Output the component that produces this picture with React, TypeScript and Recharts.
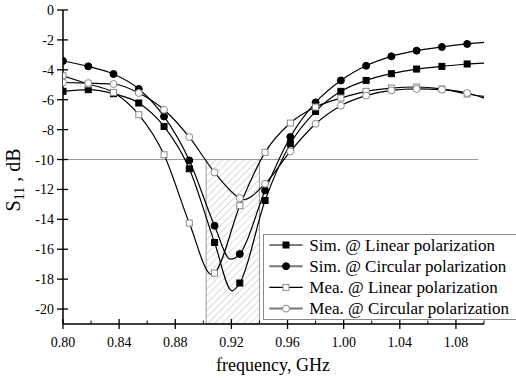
import React from 'react';
import { LineChart, Line, XAxis, YAxis, ReferenceArea, ReferenceLine, Legend } from 'recharts';

const FONT = '"Liberation Serif", "Times New Roman", serif';

// Frequencies (GHz) where the markers sit
const markerFreqs = [0.800, 0.818, 0.836, 0.854, 0.872, 0.890, 0.908, 0.926, 0.944, 0.962, 0.980, 0.998, 1.016, 1.034, 1.052, 1.070, 1.088];

// S11 (dB) at the marker frequencies
const simLinear = [-5.44, -5.33, -5.60, -6.22, -7.79, -10.62, -15.55, -18.26, -12.74, -8.94, -6.78, -5.44, -4.71, -4.26, -3.95, -3.77, -3.61];
const simCircular = [-3.41, -3.77, -4.28, -5.28, -7.12, -10.06, -14.43, -16.32, -12.07, -8.49, -6.18, -4.71, -3.73, -3.10, -2.72, -2.47, -2.27];
const meaLinear = [-4.40, -4.95, -5.51, -7.00, -9.68, -14.25, -17.60, -13.09, -9.52, -7.56, -6.49, -5.89, -5.44, -5.22, -5.15, -5.28, -5.62];
const meaCircular = [-4.85, -4.89, -4.95, -5.55, -6.67, -8.50, -10.86, -12.58, -11.62, -9.46, -7.61, -6.40, -5.73, -5.38, -5.28, -5.33, -5.55];

// Extra curve points (curve minima and curve ends, no marker)
const simLinearCurve = [[0.9205, -18.78], [1.100, -3.55]];
const simCircularCurve = [[0.9193, -16.66], [1.100, -2.17]];
const meaLinearCurve = [[0.9062, -17.72], [1.100, -5.78]];
const meaCircularCurve = [[0.9285, -12.68], [1.100, -5.89]];

const xTicks = [0.80, 0.82, 0.84, 0.86, 0.88, 0.90, 0.92, 0.94, 0.96, 0.98, 1.00, 1.02, 1.04, 1.06, 1.08, 1.10];
const yTicks = [-20, -18, -16, -14, -12, -10, -8, -6, -4, -2, 0];

const bandStart = 0.902;
const bandEnd = 0.940;
const threshold = -10;
const thresholdEnd = 1.096;

type Row = { f: number; v: number; marker: boolean };

function buildRows(values: number[], curve: number[][]): Row[] {
  const rows: Row[] = values.map((v, i) => ({ f: markerFreqs[i], v, marker: true }));
  curve.forEach(([f, v]) => rows.push({ f, v, marker: false }));
  rows.sort((a, b) => a.f - b.f);
  return rows;
}

type Shape = 'square' | 'circle';

const series = [
  { name: 'Sim. @ Linear polarization', rows: buildRows(simLinear, simLinearCurve), shape: 'square' as Shape, filled: true, legendStroke: '#000', legendWidth: 1.2 },
  { name: 'Sim. @ Circular polarization', rows: buildRows(simCircular, simCircularCurve), shape: 'circle' as Shape, filled: true, legendStroke: '#777', legendWidth: 2 },
  { name: 'Mea. @ Linear polarization', rows: buildRows(meaLinear, meaLinearCurve), shape: 'square' as Shape, filled: false, legendStroke: '#000', legendWidth: 1.2 },
  { name: 'Mea. @ Circular polarization', rows: buildRows(meaCircular, meaCircularCurve), shape: 'circle' as Shape, filled: false, legendStroke: '#777', legendWidth: 2 },
];

function Marker({ cx, cy, shape, filled }: { cx: number; cy: number; shape: Shape; filled: boolean }) {
  const fill = filled ? '#000' : '#fff';
  const stroke = filled ? '#000' : '#8a8a8a';
  if (shape === 'square') {
    return <rect x={cx - 3} y={cy - 3} width={6} height={6} fill={fill} stroke={stroke} strokeWidth={1} />;
  }
  return <circle cx={cx} cy={cy} r={3.5} fill={fill} stroke={stroke} strokeWidth={1} />;
}

const makeDot = (shape: Shape, filled: boolean) => (props: any) => {
  const { cx, cy, payload, index } = props;
  if (!payload || !payload.marker || cx == null || cy == null) return <g key={`d-${index}`} />;
  return (
    <g key={`d-${index}`}>
      <Marker cx={cx} cy={cy} shape={shape} filled={filled} />
    </g>
  );
};

const XTick = (props: any) => {
  const { x, y, payload } = props;
  const v = payload.value as number;
  const axisY = y - 8;
  const major = Math.round(v * 100) % 4 === 0;
  return (
    <g>
      {major ? (
        <line x1={x} x2={x} y1={axisY - 5} y2={axisY + 5} stroke="#000" strokeWidth={1.3} />
      ) : (
        <line x1={x} x2={x} y1={axisY - 3.5} y2={axisY} stroke="#000" strokeWidth={1} />
      )}
      {major && (
        <text x={x} y={axisY + 22.5} textAnchor="middle" fontSize={14} fontFamily={FONT} fill="#000">
          {v.toFixed(2)}
        </text>
      )}
    </g>
  );
};

const YTick = (props: any) => {
  const { x, y, payload } = props;
  const v = payload.value as number;
  const axisX = x + 8;
  return (
    <g>
      <line x1={axisX - 6} x2={axisX + 5} y1={y} y2={y} stroke="#000" strokeWidth={1.3} />
      <text x={axisX - 9} y={y + 5} textAnchor="end" fontSize={14} fontFamily={FONT} fill="#000">
        {String(v)}
      </text>
    </g>
  );
};

const YTitle = () => (
  <text transform="translate(20,180) rotate(-90)" textAnchor="middle" fontSize={20} fontFamily={FONT} fill="#000">
    <tspan>S</tspan>
    <tspan fontSize={14} dy={4}>11</tspan>
    <tspan dy={-4}> , dB</tspan>
  </text>
);

const XTitle = () => (
  <text x={273} y={371} textAnchor="middle" fontSize={18} fontFamily={FONT} fill="#000">
    frequency, GHz
  </text>
);

const LegendBox = () => (
  <svg width={253} height={88} style={{ display: 'block' }}>
    <rect x={0.5} y={0.5} width={300} height={85} fill="#fff" stroke="#888" strokeWidth={1} />
    {series.map((cfg, i) => {
      const base = 16.7 + i * 21.2;
      const cy = base - 5.7;
      return (
        <g key={cfg.name}>
          <line x1={6.3} x2={39.7} y1={cy} y2={cy} stroke={cfg.legendStroke} strokeWidth={cfg.legendWidth} />
          <Marker cx={23} cy={cy} shape={cfg.shape} filled={cfg.filled} />
          <text x={46.3} y={base} fontSize={17} fontFamily={FONT} fill="#000">
            {cfg.name}
          </text>
        </g>
      );
    })}
  </svg>
);

export default function App() {
  return (
    <div style={{ position: 'absolute', left: 0, top: 0, width: 516, height: 379, background: '#fff' }}>
      <LineChart width={516} height={379} margin={{ top: 10, right: 32, bottom: 0, left: 0 }}>
        <defs>
          <pattern id="hatch" patternUnits="userSpaceOnUse" width={5} height={5} patternTransform="rotate(45)">
            <line x1={0} y1={0} x2={0} y2={5} stroke="#b5b5b5" strokeWidth={1} />
          </pattern>
        </defs>
        <XAxis
          type="number"
          dataKey="f"
          domain={[0.8, 1.1]}
          ticks={xTicks}
          interval={0}
          allowDataOverflow
          height={55}
          tickSize={6}
          tickMargin={2}
          tickLine={false}
          axisLine={{ stroke: '#000', strokeWidth: 1.5 }}
          tick={<XTick />}
          label={<XTitle />}
        />
        <YAxis
          type="number"
          domain={[-21, 0]}
          ticks={yTicks}
          interval={0}
          allowDataOverflow
          width={63}
          tickSize={6}
          tickMargin={2}
          tickLine={false}
          axisLine={{ stroke: '#000', strokeWidth: 1.5 }}
          tick={<YTick />}
          label={<YTitle />}
        />
        <ReferenceArea
          x1={bandStart}
          x2={bandEnd}
          y1={-21}
          y2={threshold}
          fill="url(#hatch)"
          fillOpacity={1}
          stroke="#999"
          strokeWidth={1}
          ifOverflow="visible"
        />
        <ReferenceLine
          segment={[{ x: 0.8, y: threshold }, { x: thresholdEnd, y: threshold }]}
          stroke="#9a9a9a"
          strokeWidth={1}
        />
        {series.map((s) => (
          <Line
            key={s.name}
            name={s.name}
            data={s.rows}
            dataKey="v"
            type="monotone"
            stroke="#000"
            strokeWidth={1.2}
            dot={makeDot(s.shape, s.filled)}
            activeDot={false}
            isAnimationActive={false}
          />
        ))}
        <Legend
          layout="horizontal"
          verticalAlign="middle"
          align="center"
          content={<LegendBox />}
          wrapperStyle={{ left: 263, top: 234, width: 253, height: 88 }}
        />
      </LineChart>
    </div>
  );
}
